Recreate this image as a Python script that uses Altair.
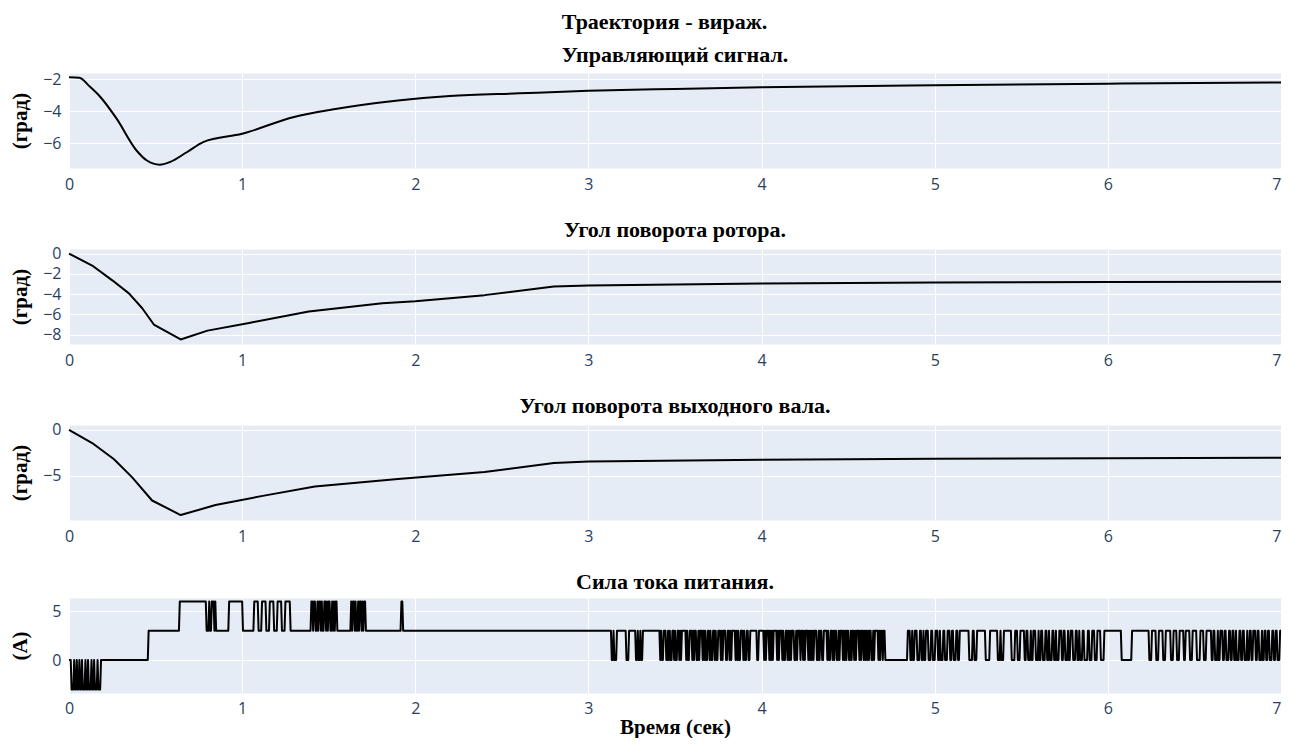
import altair as alt
import pandas as pd

SERIF = "Liberation Serif"
SANS = "Open Sans"

# --- Управляющий сигнал ---
sig_t = [0, 0.06, 0.12, 0.18, 0.275, 0.39, 0.45, 0.525, 0.58, 0.68, 0.775, 1.0, 1.3, 1.52,
         1.9, 2.2, 2.6, 3.0, 3.5, 4.0, 5.0, 6.0, 7.0]
sig_v = [-1.87, -1.9, -2.45, -3.09, -4.47, -6.47, -7.1, -7.36, -7.21, -6.58, -5.94, -5.42, -4.36,
         -3.9, -3.33, -3.05, -2.88, -2.72, -2.6, -2.5, -2.37, -2.27, -2.2]

# --- Угол поворота ротора ---
rot_t = [0, 0.134, 0.25, 0.346, 0.423, 0.49, 0.645, 0.8, 1.04, 1.385, 1.81, 2.0, 2.4, 2.8, 3.0,
         4.0, 5.0, 6.0, 7.0]
rot_v = [0, -1.18, -2.64, -3.93, -5.39, -7.0, -8.47, -7.6, -6.84, -5.71, -4.9, -4.7, -4.1, -3.25,
         -3.15, -2.96, -2.86, -2.8, -2.77]

# --- Угол поворота выходного вала ---
sh_t = [0, 0.134, 0.26, 0.365, 0.48, 0.645, 0.846, 1.135, 1.42, 1.9, 2.4, 2.8, 3.0, 4.0, 5.0,
        6.0, 7.0]
sh_v = [0, -1.43, -3.2, -5.18, -7.7, -9.29, -8.2, -7.14, -6.18, -5.36, -4.6, -3.6, -3.45, -3.25,
        -3.15, -3.08, -3.03]

# --- Сила тока питания: отсчёты через 0.005 с, "L*k" = уровень L k отсчётов, n = -3 ---
DT = 0.005
LEVELS = {"n": -3, "0": 0, "3": 3, "6": 6}
cur_seq = [
    "0*3",
    "n*3 0 n*2 0 n*2 0 n*2 0 n*3 0 n*2 0 n*3 0 n*2 0 n*3 0 n*3",
    "0*55 3*36 6*31",
    "3*3 6 3*2 6*3 3 6 3 3*14 6*16 3*13",
    "6*5 3*4 6*5 3*4 6*5 3*4 6*5 3*4 6*6 3*6",
    "3*18",
    "6*2 3 6*2 3*2 6 3 6*2 3 6 3*2 6*2 3 6 3 6*2 3*2 6 3 6 3 6*2",
    "3*16",
    "6 3 6*2 3 6 3*2 6 3 6*2 3 6 3 6*2 3",
    "3*40 6*2 3*241",
    "0*2 3 0*3 3*11 0*3 3*8 0*2 3 0*2 3 0*2 3*20",
    "0 3 0*2 3*3 0*2 3 0 3 0*2 3*2 0 3 0*2 3*2 0 3 0 3*5 0 3 0*2 3*3",
    "0 3 0 3*2 0*2 3 0 3*3 0 3 0 3 0*2 3*2 0 3 0*2 3*2 0 3 0*2 3*3",
    "0 3 0 3*3 0*2 3*2 0 3 0 3*4 0 3 0 3 0*2 3*3 0 3 0*2 3*2",
    "0*2 3*8 0*2 3*6 0 3 0 3*3 0 3 0 3 0 3*4",
    "0 3 0 3*3 0 3 0*2 3*2 0 3 0 3 0 3*3 0*2 3 0 3*3 0 3 3*1",
    "0 3 0 3*3 0 3 0 3 0 3 0 3*3 0*2 3 0 3*2 0*2 3*4 0 3 0*2 3*2",
    "0 3 0 3*2 0*2 3 0 3*3 0 3 0 3 0 3*2 0*2 3 0 3*2 0 3 0 3*3",
    "0 3 0 3*2 0 3 0 3 0 3 0 3*2 0*2 3 0 3 3*3 0 3 0 3*2 0 3 3*1",
    "0*26",
    "3*3 0*2 3 0*2 3*3 0*3 3*2 0*2 3 0*2 3*3 0*3 3*2 0*3 3*3 0*2 3 0*3 3*2 0*3 3*3 0*2 3*2 0*3 3*2 0*2 3",
    "3*10 0*4 3*2 0*3 3*10 0*5 3*9 0*3 3 0*3 3*9 0*4 3*3 0*3 3*5 0*2",
    "3*2 0*3 3 0*2 3*3 0*3 3 0*2 3*2 0*3 3*2 0*2 3 0*3 3*2 0*2 3 0*3 3*3 0*2 3*2 0*3 3 0*2 3*3 0*3",
    "3*2 0*2 3 0*3 3*2 0*4 3*2 0*3 3*3 0*3",
    "3*4 0*4 3*20 0*12 3*20",
    "0*3 3*5 0*3 3*5 0*3 3*6 0*3 3*4 0*3 3*5 0*2 3*5 0*3 3*5 0*4 3*4 0*3 3*6",
    "0*2 3*2 0*3 3 0*2 3*3 0*2 3*2 0*3 3*2 0*2 3*2 0*2 3 0*3 3*2 0*2 3*2 0*3 3 0*2 3*2",
    "0*2 3*3 0*2 3*2 0*3 3 0*2 3*2 0*2 3*2 0*3 3*2 0*2 3*2 0*3 3*2",
]

cur_t, cur_v = [], []
n = 0
for seg in cur_seq:
    for tok in seg.split():
        lvl, _, k = tok.partition("*")
        for _ in range(int(k) if k else 1):
            cur_t.append(round(n * DT, 4))
            cur_v.append(LEVELS[lvl])
            n += 1

titles = ["Управляющий сигнал.", "Угол поворота ротора.",
          "Угол поворота выходного вала.", "Сила тока питания."]
y_titles = ["(град)", "(град)", "(град)", "(А)"]
y_domains = [[-7.57, -1.6], [-8.92, 0.45], [-9.83, 0.54], [-3.37, 6.35]]
y_ticks = [[-2, -4, -6], [0, -2, -4, -6, -8], [0, -5], [0, 5]]
heights = [95, 95, 95, 95]
interp = ["monotone", "linear", "linear", "linear"]
x_ticks = [0, 1, 2, 3, 4, 5, 6, 7]

series = [(sig_t, sig_v), (rot_t, rot_v), (sh_t, sh_v), (cur_t, cur_v)]

W = 1212


def panel(i):
    tt, vv = series[i]
    df = pd.DataFrame({"t": tt, "v": vv})
    h = heights[i]
    last = i == 3
    xaxis = alt.Axis(values=x_ticks, title="Время (сек)" if last else "",
                     titlePadding=0, labelPadding=7 if last else 8,
                     labelAlign=alt.condition("datum.value == 7", alt.value("right"),
                                              alt.value("center")))
    yaxis = alt.Axis(values=y_ticks[i], title=y_titles[i], titleX=-39, titleY=h / 2,
                     titleAngle=270, titleAlign="center", titleBaseline="bottom")
    return alt.Chart(df).mark_line(color="black", strokeWidth=2, strokeJoin="round",
                                   interpolate=interp[i]).encode(
        x=alt.X("t:Q", scale=alt.Scale(domain=[0, 7], nice=False, zero=False), axis=xaxis),
        y=alt.Y("v:Q", scale=alt.Scale(domain=y_domains[i], nice=False, zero=False), axis=yaxis),
    ).properties(
        width=W, height=h,
        title=alt.TitleParams(titles[i], font=SERIF, fontSize=22, fontWeight="bold",
                              color="black", anchor="middle", offset=4),
    )


chart = alt.vconcat(*[panel(i) for i in range(4)], spacing=25).properties(
    title=alt.TitleParams("Траектория - вираж.", font=SERIF, fontSize=22, fontWeight="bold",
                          color="black", anchor="middle", offset=10, dx=19),
    padding={"left": 0, "top": 2, "right": 0, "bottom": 0},
    background="white",
).configure_view(
    fill="#E5ECF6", stroke="transparent"
).configure_axis(
    domain=False, ticks=False, gridColor="white", gridWidth=1, gridOpacity=1,
    labelFont=SANS, labelFontSize=16, labelColor="#2a3f5f", labelPadding=8,
    titleFont=SERIF, titleFontSize=21, titleFontWeight="bold", titleColor="black",
)

chart.save("out.html", embed_options={"renderer": "svg", "actions": False})
